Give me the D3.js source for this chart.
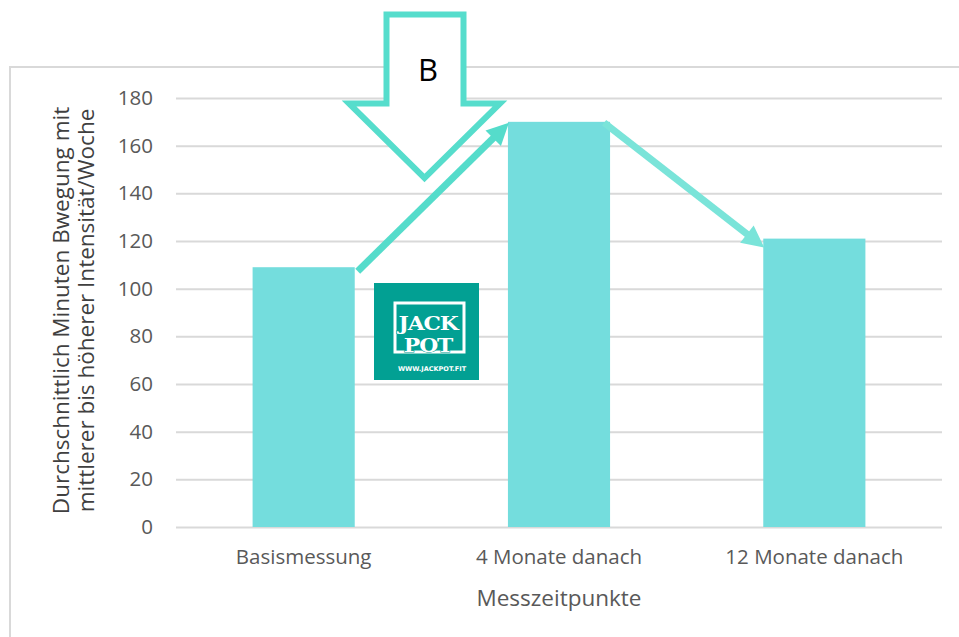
<!DOCTYPE html>
<html>
<head>
<meta charset="utf-8">
<script src="https://cdn.jsdelivr.net/npm/d3@7"></script>
<style>
  html, body { margin: 0; padding: 0; background: #fff; }
  svg { display: block; }
</style>
</head>
<body>
<svg id="chart" width="959" height="637"></svg>
<script>
// Measurement points and average minutes of moderate-to-vigorous activity per week
const categories = ["Basismessung", "4 Monate danach", "12 Monate danach"];
const minutes = [109, 170, 121];
const yTicks = [0, 20, 40, 60, 80, 100, 120, 140, 160, 180];
const yTitleLines = ["Durchschnittlich Minuten Bwegung mit", "mittlerer bis höherer Intensität/Woche"];
const xTitle = "Messzeitpunkte";
const calloutLabel = "B";

const W = 959, H = 637;
const margin = { left: 176, right: 17, top: 98, bottom: 110 };
const svg = d3.select("#chart");
const FONT = "'Open Sans', 'Noto Sans', sans-serif";

// outer chart frame (runs off the right and bottom edges)
svg.append("rect")
  .attr("x", 10).attr("y", 67)
  .attr("width", 1000).attr("height", 700)
  .attr("fill", "none").attr("stroke", "#d9d9d9").attr("stroke-width", 2);

const x = d3.scaleBand()
  .domain(categories)
  .range([margin.left, W - margin.right])
  .paddingInner(0.6).paddingOuter(0.3);

const y = d3.scaleLinear()
  .domain([0, 180])
  .range([H - margin.bottom, margin.top]);

// y axis with gridlines
const yAxis = svg.append("g")
  .attr("transform", `translate(${margin.left},0)`)
  .call(d3.axisLeft(y).tickValues(yTicks)
    .tickSize(-(W - margin.right - margin.left)).tickPadding(23));
yAxis.select(".domain").remove();
yAxis.selectAll(".tick line").attr("stroke", "#d9d9d9").attr("stroke-width", 2);
yAxis.selectAll(".tick text")
  .attr("fill", "#595959").attr("font-family", FONT).attr("font-size", 20.5);

// bars
svg.append("g").selectAll("rect")
  .data(categories)
  .join("rect")
  .attr("x", d => x(d))
  .attr("y", (d, i) => y(minutes[i]))
  .attr("width", x.bandwidth())
  .attr("height", (d, i) => y(0) - y(minutes[i]))
  .attr("fill", "#74dddd");

// x category labels
svg.append("g").selectAll("text")
  .data(categories)
  .join("text")
  .attr("x", d => x(d) + x.bandwidth() / 2)
  .attr("y", 564)
  .attr("text-anchor", "middle")
  .attr("fill", "#595959")
  .attr("font-family", FONT).attr("font-size", 20.5)
  .text(d => d);

// axis titles
svg.append("text")
  .attr("x", (margin.left + W - margin.right) / 2)
  .attr("y", 606)
  .attr("text-anchor", "middle")
  .attr("fill", "#595959")
  .attr("font-family", FONT).attr("font-size", 22.5)
  .text(xTitle);

const yTitle = svg.append("text")
  .attr("transform", `translate(69,${(y(0) + y(180)) / 2 - 2}) rotate(-90)`)
  .attr("text-anchor", "middle")
  .attr("fill", "#404040")
  .attr("font-family", FONT).attr("font-size", 22.5);
yTitleLines.forEach((t, i) => {
  yTitle.append("tspan").attr("x", 0).attr("dy", i === 0 ? 0 : 25).text(t);
});

// trend arrows between bar tops
function arrow(x1, y1, x2, y2, color) {
  const ang = Math.atan2(y2 - y1, x2 - x1);
  const len = 22, half = 11;
  const bx = x2 - len * Math.cos(ang), by = y2 - len * Math.sin(ang);
  const g = svg.append("g");
  g.append("line")
    .attr("x1", x1).attr("y1", y1).attr("x2", bx + 2 * Math.cos(ang)).attr("y2", by + 2 * Math.sin(ang))
    .attr("stroke", color).attr("stroke-width", 7);
  const px = -Math.sin(ang) * half, py = Math.cos(ang) * half;
  g.append("polygon")
    .attr("points", [[x2, y2], [bx + px, by + py], [bx - px, by - py]].map(p => p.join(",")).join(" "))
    .attr("fill", color);
}
const bw = x.bandwidth();
arrow(x(categories[0]) + bw + 3, y(minutes[0]) + 4, x(categories[1]) + 1, y(minutes[1]) + 1, "#55dccb");
arrow(x(categories[1]) + bw - 6, y(minutes[1]) + 1, x(categories[2]) + 1, y(minutes[2]) + 9, "#7ae4d9");

// hollow callout arrow "B"
const callout = [
  [386.5, 14.5], [463.5, 14.5], [463.5, 103.5], [500, 103.5],
  [424.5, 178], [349, 103.5], [386.5, 103.5]
];
svg.append("polygon")
  .attr("points", callout.map(p => p.join(",")).join(" "))
  .attr("fill", "#fff").attr("stroke", "#56ddcc").attr("stroke-width", 6)
  .attr("stroke-linejoin", "miter");
svg.append("text")
  .attr("x", 428).attr("y", 81)
  .attr("text-anchor", "middle")
  .attr("fill", "#000")
  .attr("font-family", FONT).attr("font-size", 31)
  .text(calloutLabel);

// logo badge
const logo = svg.append("g").attr("transform", "translate(374,283)");
logo.append("rect").attr("width", 105).attr("height", 97).attr("fill", "#02a093");
logo.append("rect")
  .attr("x", 21).attr("y", 20).attr("width", 69).attr("height", 49)
  .attr("fill", "none").attr("stroke", "#fff").attr("stroke-width", 3);
logo.selectAll("text.word")
  .data([["JACK", 47], ["POT", 69]])
  .join("text")
  .attr("class", "word")
  .attr("transform", d => `translate(54,${d[1]}) scale(1.15,1)`)
  .attr("text-anchor", "middle")
  .attr("font-family", "'DejaVu Serif', serif").attr("font-weight", "bold")
  .attr("font-size", 19)
  .attr("letter-spacing", -1)
  .attr("fill", "#fff").attr("stroke", "#02a093").attr("stroke-width", 1.2)
  .attr("paint-order", "stroke")
  .text(d => d[0]);
logo.append("text")
  .attr("x", 58).attr("y", 88)
  .attr("text-anchor", "middle")
  .attr("font-family", "'DejaVu Sans', sans-serif").attr("font-weight", "bold")
  .attr("font-size", 6.5)
  .attr("fill", "#fff")
  .text("WWW.JACKPOT.FIT");
</script>
</body>
</html>
